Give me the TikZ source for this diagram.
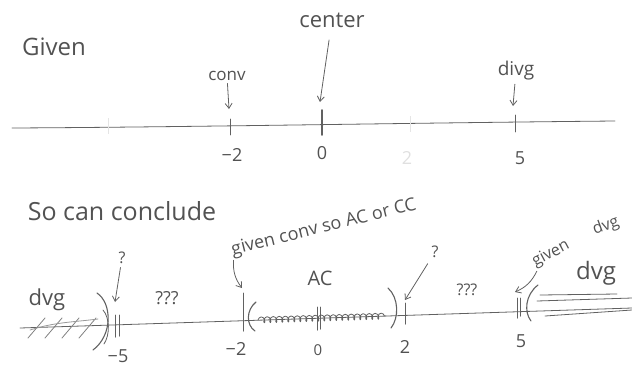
\documentclass[tikz,border=0pt]{standalone}
\usepackage{fontspec}
\setmainfont{Open Sans}
\usetikzlibrary{arrows.meta,positioning,decorations.pathmorphing}

\tikzset{
  pencil/.style={draw=black!62, line width=0.8pt, line cap=round, line join=round},
  hand/.style={text=black!68, inner sep=0.5pt, font=\fontsize{#1}{#1}\selectfont},
  hand/.default=18,
  faintline/.style={draw=black!10, line width=0.6pt},
  fainttext/.style={text=black!12},
  pointer/.style={pencil, -{Straight Barb[length=5pt,width=7pt]}},
  scribble/.style={pencil, decorate, decoration={coil,aspect=0.6,segment length=6pt,amplitude=3pt}},
}

\begin{document}
\begin{tikzpicture}[x=1pt,y=-1pt]
\useasboundingbox (0,0) rectangle (632,368);
% Given
\node[hand=24] (given) at (54,47) {Given};
% top number line
\draw[pencil] (12,128) .. controls (200,127) and (400,123) .. (615,121);
\draw[pencil] (230,119) -- (230,135);
\draw[pencil, line width=1.8pt] (322,110) -- (322,135);
\draw[pencil] (515,115) -- (515,132);
\draw[faintline] (108,118) -- (108,134);
\draw[faintline] (410,116) -- (410,132);
\node[hand] (top-m2) at (232,155) {−2};
\node[hand] (top-0) at (322,153) {0};
\node[hand, fainttext] (top-2) at (407,158) {2};
\node[hand] (top-5) at (520,158) {5};
% annotations with pointers
\node[hand=22] (center) at (332,20) {center};
\node[hand=17] (conv) at (227,76) {conv};
\node[hand=19] (divg) at (516,71) {divg};
\coordinate (center-tip) at (320,102);
\coordinate (conv-tip) at (229,109);
\coordinate (divg-tip) at (513,106);
\draw[pointer, shorten <=12pt] (center) -- (center-tip);
\draw[pointer, shorten <=2pt] (conv) -- (conv-tip);
\draw[pointer, shorten <=3pt] (divg) -- (divg-tip);

% So can conclude
\node[hand=25] (conclude) at (122,211) {So can conclude};
% bottom number line
\draw[pencil] (20,328) -- (632,308);
% ticks on it
\foreach \x/\y/\b in {115/315/337, 119/315/336, 243/293/331, 317/307/330, 320/307/329, 405/303/324, 517/298/318, 520/298/316}
  \draw[pencil, line width=1pt] (\x,\y) -- (\x,\b);
% brackets
\draw[pencil, line width=1.1pt] (97,293) .. controls (112,303) and (113,335) .. (93,350);
\draw[pencil] (103,310) .. controls (110,318) and (110,335) .. (104,344);
\draw[pencil, line width=1.1pt] (256,302) .. controls (246,310) and (246,325) .. (255,331);
\draw[pencil, line width=1.1pt] (388,288) .. controls (399,298) and (399,318) .. (391,328);
\draw[pencil, line width=1.1pt] (538,285) .. controls (525,295) and (524,312) .. (531,321);
% shaded parts
\draw[scribble] (258,320) -- (386,316);
\foreach \x in {28,45,62,79}
  \draw[pencil, draw=black!50] (\x,338) -- (\x+17,318);
\draw[pencil, draw=black!40] (30,330) .. controls (55,322) and (75,322) .. (98,319);
\draw[pencil] (540,295) -- (617,294);
\draw[pencil] (537,301) -- (632,298);
\draw[pencil] (545,316) -- (632,310);
% bottom numbers
\node[hand] (bot-m5) at (118,356) {−5};
\node[hand] (bot-m2) at (236,349) {−2};
\node[hand=15] (bot-0) at (318,350) {0};
\node[hand] (bot-2) at (405,347) {2};
\node[hand] (bot-5) at (521,341) {5};
% region labels
\node[hand=22] (dvg-left) at (47,300) {dvg};
\node[hand=18] (unk-left) at (167,298) {???};
\node[hand=20] (ac) at (320,278) {AC};
\node[hand=16] (unk-right) at (467,290) {???};
\node[hand=24] (dvg-right) at (596,273) {dvg};
% question pointers
\node[hand=16] (q-left) at (122,258) {?};
\node[hand=16] (q-right) at (435,252) {?};
\coordinate (q-left-tip) at (115,302);
\coordinate (q-right-tip) at (405,300);
\draw[pointer, shorten <=3pt] (q-left) -- (q-left-tip);
\draw[pointer, shorten <=6pt] (q-right) -- (q-right-tip);
% given notes
\node[hand=18, rotate=14] (given-conv) at (324,228) {given conv so AC or CC};
\node[hand=16, rotate=28] (given-dvg) at (551,254) {given};
\node[hand=16, rotate=20] (given-dvg2) at (606,226) {dvg};
\coordinate (gc-tip) at (242,288);
\coordinate (gd-tip) at (515,292);
\draw[pointer] (given-conv.south west) to[bend right=20] (gc-tip);
\draw[pointer] (given-dvg.south west) to[bend left=20] (gd-tip);
\end{tikzpicture}
\end{document}
